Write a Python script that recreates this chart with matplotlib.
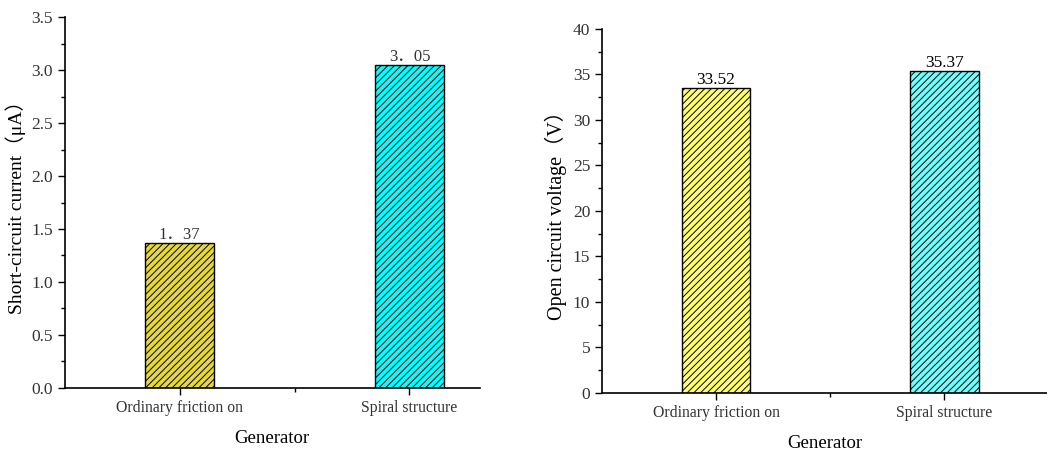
import matplotlib.pyplot as plt
from matplotlib.ticker import MultipleLocator, FixedLocator

plt.rcParams['font.family'] = ['Liberation Serif', 'Noto Sans CJK SC', 'DejaVu Sans']
plt.rcParams['hatch.linewidth'] = 0.7

categories = ['Ordinary friction on', 'Spiral structure']
current = [1.37, 3.05]
current_labels = ['1．37', '3．05']
voltage = [33.52, 35.37]
voltage_labels = ['33.52', '35.37']

fig = plt.figure(figsize=(10.47, 4.5), dpi=100)
ax1 = fig.add_axes([0.062, 0.138, 0.396, 0.824])
ax2 = fig.add_axes([0.575, 0.127, 0.425, 0.809])


def style_axes(ax, ymax, ymajor, xmax):
    pos = [1, 2]
    ax.set_xlim(0.5, xmax)
    ax.set_ylim(0, ymax)
    ax.spines['top'].set_visible(False)
    ax.spines['right'].set_visible(False)
    for s in ('left', 'bottom'):
        ax.spines[s].set_linewidth(1.2)
    ax.set_xticks(pos)
    ax.set_xticklabels(categories, fontsize=11.3)
    ax.xaxis.set_minor_locator(FixedLocator([1.5]))
    ax.yaxis.set_major_locator(MultipleLocator(ymajor))
    ax.yaxis.set_minor_locator(MultipleLocator(ymajor / 2))
    ax.tick_params(axis='both', which='major', direction='out', length=5, width=1, labelcolor='#333333')
    ax.tick_params(axis='both', which='minor', direction='out', length=3, width=1)
    ax.tick_params(axis='y', labelsize=12.5)
    ax.set_xlabel('Generator', fontsize=13.5, labelpad=10)


# left: short-circuit current
bars = ax1.bar([1, 2], current, width=0.3, color=['#e6d83a', '#00ffff'],
               edgecolor='black', linewidth=1, hatch='/////')
for b, lab in zip(bars, current_labels):
    ax1.text(b.get_x() + b.get_width() / 2, b.get_height(), lab,
             ha='center', va='bottom', fontsize=12, color='#333333')
style_axes(ax1, 3.5, 0.5, 2.305)
ax1.yaxis.set_major_formatter(plt.FormatStrFormatter('%.1f'))
ax1.set_ylabel('Short-circuit current（μA）', fontsize=14)

# right: open circuit voltage
bars = ax2.bar([1, 2], voltage, width=0.3, color=['#ffff70', '#70ffff'],
               edgecolor='black', linewidth=1, hatch='/////')
for b, lab in zip(bars, voltage_labels):
    ax2.text(b.get_x() + b.get_width() / 2, b.get_height(), lab,
             ha='center', va='bottom', fontsize=12.5, color='black')
style_axes(ax2, 40, 5, 2.45)
ax2.set_ylabel('Open circuit voltage（V）', fontsize=14.5)

fig.savefig('out.png', dpi=100)
